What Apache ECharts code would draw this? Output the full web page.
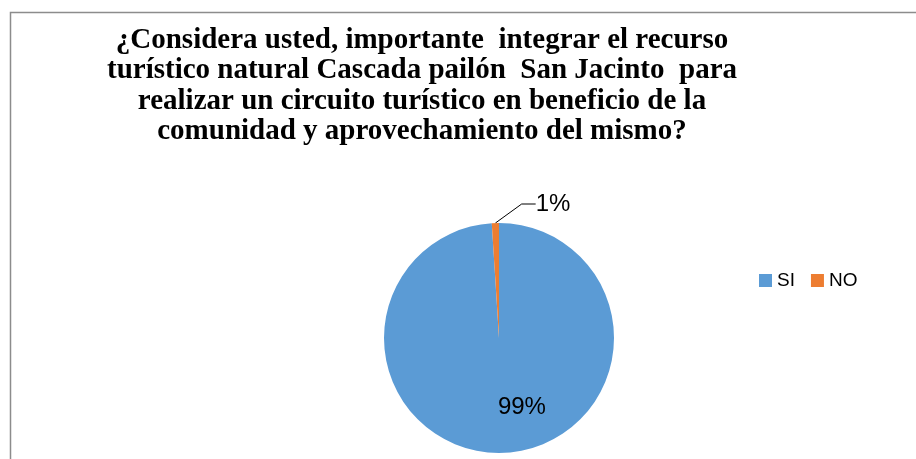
<!DOCTYPE html>
<html>
<head>
<meta charset="utf-8">
<script src="https://cdn.jsdelivr.net/npm/echarts@6/dist/echarts.min.js"></script>
<style>html,body{margin:0;padding:0;background:#fff;}#c{width:916px;height:459px;}</style>
</head>
<body>
<div id="c"></div>
<script>
const titleLines = [
  '¿Considera usted, importante  integrar el recurso',
  'turístico natural Cascada pailón  San Jacinto  para',
  'realizar un circuito turístico en beneficio de la',
  'comunidad y aprovechamiento del mismo?'
];
const categories = ['SI', 'NO'];
const values = [99, 1];
const labels = ['99%', '1%'];
const colors = ['#5B9BD5', '#ED7D31'];

const chart = echarts.init(document.getElementById('c'), null, {renderer: 'canvas'});
chart.setOption({
  animation: false,
  backgroundColor: '#fff',
  graphic: [{
    type: 'rect', silent: true,
    shape: {x: 10.5, y: 12.5, width: 930, height: 470},
    style: {fill: 'none', stroke: '#8c8c8c', lineWidth: 1.5}
  }],
  title: {
    text: titleLines.join('\n'),
    left: 422, top: 25, padding: 0,
    textAlign: 'center',
    textStyle: {
      fontFamily: 'Liberation Serif', fontWeight: 'bold', fontSize: 29,
      lineHeight: 30.5, color: '#000'
    }
  },
  legend: {
    data: categories,
    left: 759, top: 271, padding: 0,
    itemWidth: 13, itemHeight: 13, itemGap: 16,
    icon: 'rect',
    textStyle: {fontFamily: 'Liberation Sans', fontSize: 19, color: '#000', padding: [0,0,0,0]}
  },
  series: [{
    type: 'pie',
    center: [499, 338], radius: 115,
    startAngle: 90, clockwise: true,
    color: colors,
    itemStyle: {borderWidth: 0},
    data: categories.map((c, i) => ({
      name: c, value: values[i],
      label: i === 0
        ? {show: true, position: 'inside', formatter: labels[i]}
        : {show: true, position: 'outside', formatter: labels[i]},
      labelLine: i === 0 ? {show: false} : {show: true, length: 12, length2: 14, lineStyle: {color: '#000', width: 1}}
    })),
    label: {fontFamily: 'Liberation Sans', fontSize: 24, color: '#000'},
    labelLayout: function (p) {
      if (p.dataIndex === 0) return {dx: 21, dy: 9};
      return {x: 553, y: 204, align: 'center', verticalAlign: 'middle'};
    }
  }]
});
</script>
</body>
</html>
